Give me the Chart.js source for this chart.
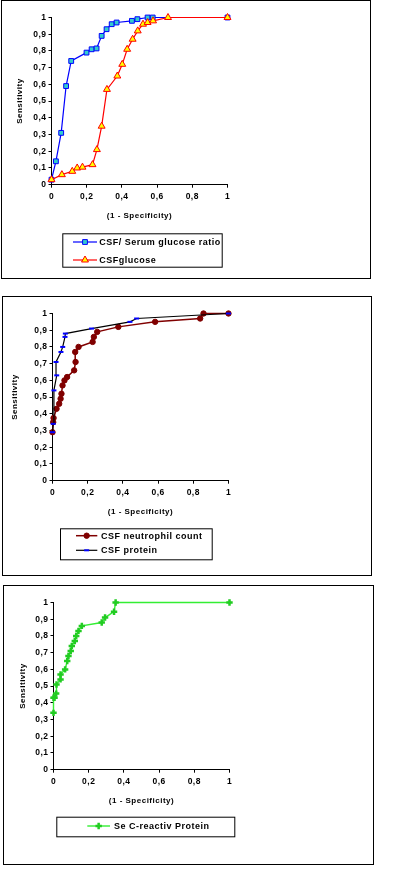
<!DOCTYPE html>
<html>
<head>
<meta charset="utf-8">
<script src="https://cdn.jsdelivr.net/npm/chart.js@4/dist/chart.umd.min.js"></script>
<style>
  html, body { margin: 0; padding: 0; background: #fff; }
  body { width: 395px; height: 893px; position: relative; overflow: hidden; }
  canvas { position: absolute; }
</style>
</head>
<body>
<canvas id="chart_glucose" width="370" height="279" style="left:1px;top:0px;width:370px;height:279px"></canvas>
<canvas id="chart_csf" width="370" height="280" style="left:2px;top:296px;width:370px;height:280px"></canvas>
<canvas id="chart_crp" width="371" height="280" style="left:3px;top:585px;width:371px;height:280px"></canvas>
<script>
// ROC points: x = 1 - specificity, y = sensitivity
var ratioFpr = [0, 0.025, 0.055, 0.083, 0.112, 0.199, 0.228, 0.256, 0.285, 0.313, 0.342, 0.37, 0.457, 0.488, 0.546, 0.575, 1];
var ratioSens = [0.03, 0.14, 0.31, 0.59, 0.74, 0.79, 0.81, 0.815, 0.89, 0.93, 0.96, 0.97, 0.98, 0.99, 1, 1, 1];

var glucoseFpr = [0, 0.059, 0.118, 0.146, 0.176, 0.233, 0.258, 0.285, 0.315, 0.374, 0.402, 0.43, 0.461, 0.49, 0.52, 0.546, 0.577, 0.662, 1];
var glucoseSens = [0.03, 0.06, 0.08, 0.1, 0.105, 0.12, 0.21, 0.35, 0.57, 0.65, 0.72, 0.81, 0.87, 0.92, 0.96, 0.97, 0.98, 1, 1];

var neutroFpr = [0, 0.004, 0.006, 0.023, 0.038, 0.046, 0.051, 0.057, 0.068, 0.083, 0.123, 0.131, 0.129, 0.148, 0.228, 0.235, 0.254, 0.374, 0.583, 0.839, 0.858, 1];
var neutroSens = [0.29, 0.35, 0.375, 0.43, 0.46, 0.49, 0.52, 0.57, 0.6, 0.62, 0.66, 0.71, 0.77, 0.8, 0.83, 0.86, 0.89, 0.92, 0.95, 0.97, 1, 1];

var proteinFpr = [0, 0.004, 0.008, 0.024, 0.02, 0.048, 0.058, 0.071, 0.073, 0.222, 0.44, 0.478, 1];
var proteinSens = [0.29, 0.34, 0.54, 0.63, 0.71, 0.77, 0.8, 0.86, 0.88, 0.91, 0.95, 0.97, 1];

var crpFpr = [0, 0, 0.006, 0.015, 0.017, 0.04, 0.04, 0.066, 0.078, 0.085, 0.098, 0.104, 0.121, 0.129, 0.142, 0.161, 0.274, 0.293, 0.344, 0.353, 1];
var crpSens = [0.34, 0.43, 0.43, 0.455, 0.51, 0.54, 0.57, 0.6, 0.65, 0.68, 0.71, 0.74, 0.77, 0.8, 0.83, 0.86, 0.88, 0.91, 0.945, 1, 1];

var axisTicks = [0, 0.2, 0.4, 0.6, 0.8, 1];

function points(xs, ys) {
    return xs.map(function(x, i) { return {x: x, y: ys[i]}; });
}

function commaLabel(value) {
    return String(Math.round(value * 10) / 10).replace('.', ',');
}

// white background, panel frame and the boxed legend Excel style
var panelPlugin = {
    id: 'panelFrame',
    beforeDraw: function(chart) {
        var ctx = chart.ctx;
        ctx.save();
        ctx.fillStyle = 'white';
        ctx.fillRect(0, 0, chart.width, chart.height);
        ctx.restore();
        ctx.letterSpacing = '0.5px';
    },
    afterDraw: function(chart) {
        var ctx = chart.ctx;
        var lg = chart.options.plugins.boxLegend;
        ctx.save();
        ctx.strokeStyle = '#000';
        ctx.lineWidth = 1;
        ctx.strokeRect(0.5, 0.5, chart.width - 1, chart.height - 1);
        ctx.strokeRect(lg.box[0] + 0.5, lg.box[1] + 0.5, lg.box[2] - lg.box[0], lg.box[3] - lg.box[1]);
        chart.data.datasets.forEach(function(ds, i) {
            var y = lg.rows[i];
            ctx.strokeStyle = ds.borderColor;
            ctx.lineWidth = ds.borderWidth;
            ctx.beginPath();
            ctx.moveTo(lg.lineX[0], y);
            ctx.lineTo(lg.lineX[1], y);
            ctx.stroke();
            ctx.fillStyle = ds.pointBackgroundColor;
            ctx.strokeStyle = ds.pointBorderColor;
            ctx.lineWidth = ds.pointBorderWidth;
            Chart.helpers.drawPoint(ctx, {
                pointStyle: ds.pointStyle,
                radius: ds.pointRadius,
                borderWidth: ds.pointBorderWidth,
                rotation: 0
            }, (lg.lineX[0] + lg.lineX[1]) / 2, y);
            ctx.fillStyle = '#000';
            ctx.font = 'bold 9px "Liberation Sans", Arial, sans-serif';
            ctx.letterSpacing = '0.5px';
            ctx.textBaseline = 'middle';
            ctx.textAlign = 'left';
            ctx.fillText(ds.label, lg.textX, y + 0.5);
        });
        ctx.restore();
    }
};

function makeRoc(id, datasets, legendLayout, yTitlePad) {
    var canvas = document.getElementById(id);
    var w = canvas.width, h = canvas.height;
    return new Chart(canvas, {
        type: 'line',
        data: { datasets: datasets },
        options: {
            animation: false,
            responsive: false,
            devicePixelRatio: 1,
            layout: {
                padding: { left: 0, top: 17.5, right: w - 226.5, bottom: h - 184.7 - 36 }
            },
            plugins: {
                legend: { display: false },
                tooltip: { enabled: false },
                boxLegend: legendLayout
            },
            scales: {
                x: {
                    type: 'linear',
                    min: 0,
                    max: 1,
                    afterFit: function(scale) { scale.height = 36; },
                    afterBuildTicks: function(scale) {
                        scale.ticks = axisTicks.map(function(v) { return {value: v}; });
                    },
                    grid: { display: true, drawOnChartArea: false, drawTicks: true, tickLength: 3, color: '#000' },
                    border: { display: true, color: '#000', width: 1 },
                    ticks: {
                        padding: 4,
                        color: '#000',
                        maxRotation: 0,
                        font: { family: '"Liberation Sans", Arial, sans-serif', size: 8.5, weight: 'bold' },
                        callback: commaLabel
                    },
                    title: {
                        display: true,
                        text: '(1 - Specificity)',
                        color: '#000',
                        padding: { top: 0, bottom: 0 },
                        font: { family: '"Liberation Sans", Arial, sans-serif', size: 8, weight: 'bold' }
                    }
                },
                y: {
                    type: 'linear',
                    min: 0,
                    max: 1,
                    afterFit: function(scale) { scale.width = 50.5; },
                    grid: { display: true, drawOnChartArea: false, drawTicks: true, tickLength: 3, color: '#000' },
                    border: { display: true, color: '#000', width: 1 },
                    ticks: {
                        stepSize: 0.1,
                        padding: 2,
                        color: '#000',
                        font: { family: '"Liberation Sans", Arial, sans-serif', size: 8.5, weight: 'bold' },
                        callback: commaLabel
                    },
                    title: {
                        display: true,
                        text: 'Sensitivity',
                        color: '#000',
                        padding: { top: yTitlePad, bottom: 0 },
                        font: { family: '"Liberation Sans", Arial, sans-serif', size: 8, weight: 'bold' }
                    }
                }
            }
        },
        plugins: [panelPlugin]
    });
}

var chart_glucose = makeRoc('chart_glucose', [
    {
        label: 'CSF/ Serum glucose ratio',
        data: points(ratioFpr, ratioSens),
        borderColor: '#0000ff',
        borderWidth: 1.2,
        pointStyle: 'rect',
        pointRadius: 3.4,
        pointBackgroundColor: '#33cccc',
        pointBorderColor: '#0000ff',
        pointBorderWidth: 1,
        tension: 0,
        clip: false,
        order: 1
    },
    {
        label: 'CSFglucose',
        data: points(glucoseFpr, glucoseSens),
        borderColor: '#ff0000',
        borderWidth: 1.2,
        pointStyle: 'triangle',
        pointRadius: 4,
        pointBackgroundColor: '#ffff00',
        pointBorderColor: '#ff0000',
        pointBorderWidth: 1,
        tension: 0,
        clip: false,
        order: 0
    }
], { box: [61.3, 233.3, 220.7, 266.7], lineX: [72, 96], textX: 98.3, rows: [242, 260] }, 14);

var chart_csf = makeRoc('chart_csf', [
    {
        label: 'CSF neutrophil count',
        data: points(neutroFpr, neutroSens),
        borderColor: '#800000',
        borderWidth: 1.5,
        pointStyle: 'circle',
        pointRadius: 2.7,
        pointBackgroundColor: '#800000',
        pointBorderColor: '#800000',
        pointBorderWidth: 1,
        tension: 0,
        clip: false,
        order: 1
    },
    {
        label: 'CSF protein',
        data: points(proteinFpr, proteinSens),
        borderColor: '#000000',
        borderWidth: 1.2,
        pointStyle: 'line',
        pointRadius: 2.5,
        pointBackgroundColor: '#0000ff',
        pointBorderColor: '#0000ff',
        pointBorderWidth: 2,
        tension: 0,
        clip: false,
        order: 0
    }
], { box: [58, 232.3, 209.7, 263.3], lineX: [74, 95.3], textX: 99, rows: [239.7, 254.3] }, 8);

var chart_crp = makeRoc('chart_crp', [
    {
        label: 'Se C-reactiv Protein',
        data: points(crpFpr, crpSens),
        borderColor: '#33ee33',
        borderWidth: 1.4,
        pointStyle: 'cross',
        pointRadius: 3.2,
        pointBackgroundColor: '#22cc22',
        pointBorderColor: '#22cc22',
        pointBorderWidth: 2.5,
        tension: 0,
        clip: false
    }
], { box: [53.3, 231.7, 231.3, 251.3], lineX: [84.3, 107], textX: 111, rows: [241] }, 15);
</script>
</body>
</html>
